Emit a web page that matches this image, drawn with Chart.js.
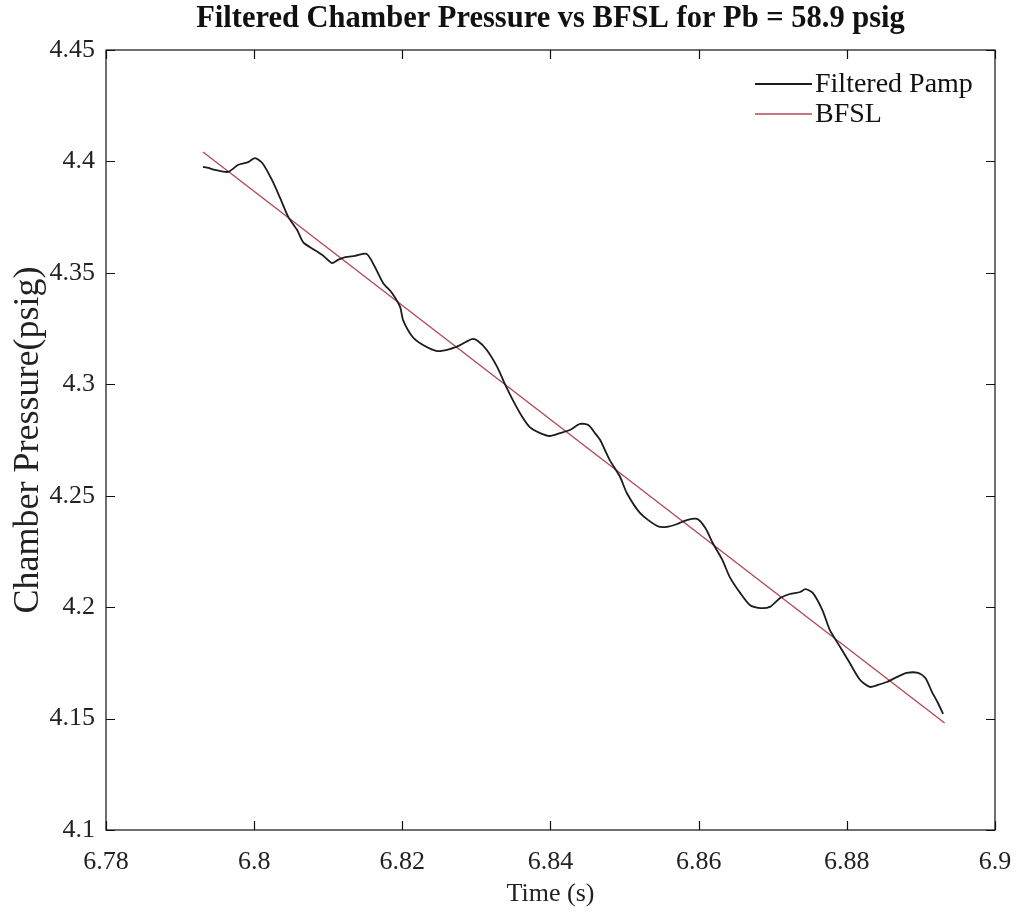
<!DOCTYPE html>
<html>
<head>
<meta charset="utf-8">
<script src="https://cdn.jsdelivr.net/npm/chart.js@4/dist/chart.umd.min.js"></script>
<style>
  html, body { margin: 0; padding: 0; background: #fff; }
  #wrap { width: 1021px; height: 917px; }
</style>
</head>
<body>
<div id="wrap"><canvas id="myChart" width="1021" height="917"></canvas></div>
<script>
// filtered chamber pressure
const timeS = [
  6.7931, 6.7938, 6.7947, 6.7965, 6.7978, 6.7992, 6.8001, 6.8011, 6.8024, 6.8035,
  6.8046, 6.8058, 6.8066, 6.8075, 6.8092, 6.8105, 6.8113, 6.8123, 6.8136, 6.8152,
  6.8163, 6.8174, 6.8186, 6.8197, 6.8201, 6.8214, 6.8228, 6.8247, 6.8264, 6.8278,
  6.8294, 6.8302, 6.8314, 6.8328, 6.8339, 6.8349, 6.8362, 6.8372, 6.8386, 6.8399,
  6.8413, 6.8426, 6.8440, 6.8451, 6.8460, 6.8467, 6.8480, 6.8494, 6.8503, 6.8521,
  6.8544, 6.8557, 6.8571, 6.8584, 6.8598, 6.8609, 6.8619, 6.8632, 6.8642, 6.8656,
  6.8669, 6.8683, 6.8696, 6.8710, 6.8723, 6.8737, 6.8744, 6.8754, 6.8767, 6.8777,
  6.8791, 6.8804, 6.8818, 6.8831, 6.8842, 6.8854, 6.8868, 6.8881, 6.8896, 6.8906,
  6.8915, 6.8923, 6.8930
];
const pampFiltered = [
  4.3975, 4.3971, 4.3962, 4.3953, 4.3984, 4.3997, 4.4015, 4.3993, 4.3917, 4.3836,
  4.3751, 4.3692, 4.3638, 4.3616, 4.3580, 4.3544, 4.3558, 4.3571, 4.3576, 4.3585,
  4.3526, 4.3455, 4.3410, 4.3347, 4.3288, 4.3212, 4.3176, 4.3149, 4.3158, 4.3176,
  4.3203, 4.3194, 4.3154, 4.3078, 4.2997, 4.2930, 4.2853, 4.2808, 4.2781, 4.2768,
  4.2781, 4.2795, 4.2822, 4.2817, 4.2781, 4.2750, 4.2660, 4.2584, 4.2512, 4.2422,
  4.2364, 4.2360, 4.2373, 4.2391, 4.2396, 4.2355, 4.2288, 4.2212, 4.2135, 4.2064,
  4.2010, 4.1996, 4.2001, 4.2041, 4.2059, 4.2068, 4.2081, 4.2064, 4.1987, 4.1898,
  4.1821, 4.1749, 4.1673, 4.1642, 4.1651, 4.1664, 4.1687, 4.1705, 4.1705, 4.1682,
  4.1619, 4.1570, 4.1521
];

// best fit straight line end points
const bfslTime = [6.7931, 6.8932];
const bfslPressure = [4.4042, 4.1480];

const xTicks = [6.78, 6.80, 6.82, 6.84, 6.86, 6.88, 6.90];
const xTickLabels = ['6.78', '6.8', '6.82', '6.84', '6.86', '6.88', '6.9'];
const yTicks = [4.10, 4.15, 4.20, 4.25, 4.30, 4.35, 4.40, 4.45];
const yTickLabels = ['4.1', '4.15', '4.2', '4.25', '4.3', '4.35', '4.4', '4.45'];

const FONT = '"Liberation Serif", "Times New Roman", serif';

const toPts = (xs, ys) => xs.map((x, i) => ({ x: x, y: ys[i] }));

// matlab style box with inward ticks
const boxPlugin = {
  id: 'box',
  afterDatasetsDraw(chart) {
    const { ctx, chartArea: a, scales } = chart;
    const len = 9;
    ctx.save();
    ctx.strokeStyle = '#111';
    ctx.lineWidth = 1.2;
    ctx.strokeRect(a.left, a.top, a.right - a.left, a.bottom - a.top);
    ctx.beginPath();
    xTicks.forEach(v => {
      const px = Math.round(scales.x.getPixelForValue(v)) + 0.5;
      ctx.moveTo(px, a.bottom); ctx.lineTo(px, a.bottom - len);
      ctx.moveTo(px, a.top); ctx.lineTo(px, a.top + len);
    });
    yTicks.forEach(v => {
      const py = Math.round(scales.y.getPixelForValue(v)) + 0.5;
      ctx.moveTo(a.left, py); ctx.lineTo(a.left + len, py);
      ctx.moveTo(a.right, py); ctx.lineTo(a.right - len, py);
    });
    ctx.stroke();
    ctx.restore();
  }
};

// legend drawn inside the axes, top right
const legendPlugin = {
  id: 'insideLegend',
  afterDraw(chart) {
    const { ctx, chartArea: a } = chart;
    ctx.save();
    ctx.font = '28px ' + FONT;
    ctx.textBaseline = 'middle';
    ctx.fillStyle = '#111';
    chart.data.datasets.forEach((ds, i) => {
      const y = a.top + 34 + i * 30;
      const x0 = a.right - 240;
      ctx.strokeStyle = ds.borderColor;
      ctx.lineWidth = ds.borderWidth;
      ctx.beginPath();
      ctx.moveTo(x0, y);
      ctx.lineTo(x0 + 57, y);
      ctx.stroke();
      ctx.fillText(ds.label, x0 + 60, y + 1);
    });
    ctx.restore();
  }
};

const ctx = document.getElementById('myChart').getContext('2d');
const myChart = new Chart(ctx, {
  type: 'scatter',
  data: {
    datasets: [
      {
        label: 'Filtered Pamp',
        data: toPts(timeS, pampFiltered),
        showLine: true,
        borderColor: '#1c1c1c',
        borderWidth: 1.8,
        pointRadius: 0,
        tension: 0.25
      },
      {
        label: 'BFSL',
        data: toPts(bfslTime, bfslPressure),
        showLine: true,
        borderColor: '#b24a54',
        borderWidth: 1.4,
        pointRadius: 0
      }
    ]
  },
  options: {
    responsive: false,
    animation: false,
    layout: { padding: { top: 0, right: 26, bottom: 0, left: 0 } },
    plugins: {
      legend: { display: false },
      tooltip: { enabled: false },
      title: {
        display: true,
        text: 'Filtered Chamber Pressure vs BFSL for Pb = 58.9 psig',
        color: '#111',
        fullSize: false,
        font: { family: FONT, size: 30.5, weight: 'bold', lineHeight: 1.0 },
        padding: { top: 4, bottom: 15.5 }
      }
    },
    scales: {
      x: {
        type: 'linear',
        min: 6.78,
        max: 6.9,
        afterBuildTicks: s => { s.ticks = xTicks.map(v => ({ value: v })); },
        afterFit: s => { s.height = 87; s.paddingLeft = 0; s.paddingRight = 0; },
        grid: { display: false, drawTicks: false },
        border: { display: false },
        ticks: {
          padding: 17,
          color: '#222',
          font: { family: FONT, size: 26 },
          maxRotation: 0,
          callback: (v, i) => xTickLabels[i]
        },
        title: {
          display: true,
          text: 'Time (s)',
          color: '#222',
          font: { family: FONT, size: 26 },
          padding: { top: 0, bottom: 7 }
        }
      },
      y: {
        type: 'linear',
        min: 4.1,
        max: 4.45,
        afterBuildTicks: s => { s.ticks = yTicks.map(v => ({ value: v })); },
        afterFit: s => { s.width = 106; },
        grid: { display: false, drawTicks: false },
        border: { display: false },
        ticks: {
          padding: 11,
          color: '#222',
          font: { family: FONT, size: 26 },
          callback: (v, i) => yTickLabels[i]
        },
        title: {
          display: true,
          text: 'Chamber Pressure(psig)',
          color: '#222',
          font: { family: FONT, size: 36 },
          padding: { top: 7, bottom: 0 }
        }
      }
    }
  },
  plugins: [boxPlugin, legendPlugin]
});
</script>
</body>
</html>
